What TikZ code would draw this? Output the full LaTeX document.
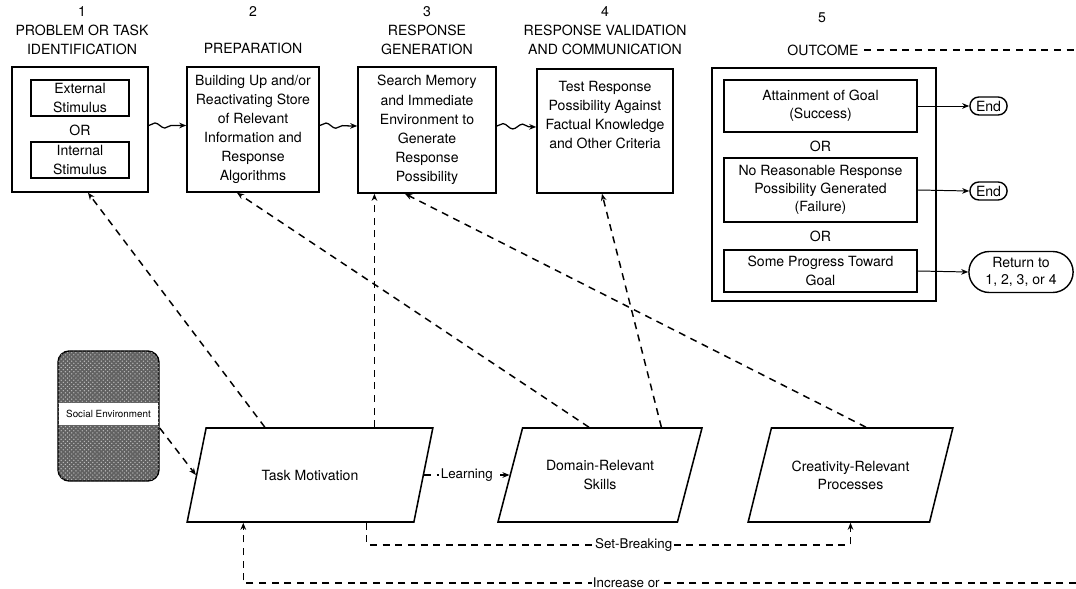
\documentclass[tikz,border=0pt]{standalone}
\usepackage{fontspec}
\setmainfont{TeX Gyre Heros}
\usetikzlibrary{calc}
\usetikzlibrary{arrows.meta}
\usetikzlibrary{shapes.geometric, shapes.misc}
\usetikzlibrary{decorations.pathmorphing}
\usetikzlibrary{patterns}
\begin{document}
\begin{tikzpicture}[x=0.025cm, y=-0.025cm]
            \tikzstyle{stage box} = [draw, line width=1.1pt, align=center, inner sep=2pt, font=\fontsize{10}{13.6}\selectfont]
            \tikzstyle{sub box} = [draw, line width=1.1pt, align=center, inner sep=2pt, font=\fontsize{10}{13}\selectfont]
            \tikzstyle{stage title} = [align=center, inner sep=1pt, font=\fontsize{10}{13.5}\selectfont]
            \tikzstyle{end oval} = [draw, line width=1pt, rounded rectangle, align=center, inner sep=1pt, font=\fontsize{10}{12.5}\selectfont]
            \tikzstyle{component} = [draw, line width=1.1pt, trapezium, trapezium left angle=64, trapezium right angle=116, trapezium stretches=true, minimum height=2.35cm, align=center, font=\fontsize{10}{13}\selectfont]
            \tikzstyle{dep line} = [line width=1.05pt, dash pattern=on 5pt off 4pt, -{Stealth[length=5pt, width=4pt]}]
            \tikzstyle{flow line} = [line width=0.7pt, -{Stealth[length=5pt, width=4pt]}]
            \tikzstyle{wave line} = [line width=0.9pt, -{Stealth[length=5pt, width=4pt]}, decorate, decoration={snake, amplitude=1.8pt, segment length=14pt, post length=4pt}]
            \tikzstyle{line label} = [fill=white, inner sep=1pt, font=\fontsize{9.5}{11}\selectfont]
            \useasboundingbox (0,0) rectangle (1076,589);
            % stages 1 to 4
            \node[stage title] (n1) at (82,31) {1\\PROBLEM OR TASK\\IDENTIFICATION};
            \node[stage title] (n2) at (253,12) {2};
            \node[stage title] (t2) at (253,48) {PREPARATION};
            \node[stage title] (n3) at (427,31) {3\\RESPONSE\\GENERATION};
            \node[stage title] (n4) at (605,31) {4\\RESPONSE VALIDATION\\AND COMMUNICATION};
            \node[stage box, minimum width=3.4cm, minimum height=3.125cm] (ident) at (80,129.5) {};
            \node[sub box, minimum width=2.45cm, minimum height=0.9cm] (ext) at (80,98) {External\\Stimulus};
            \node[stage title] (or0) at (80,130) {OR};
            \node[sub box, minimum width=2.45cm, minimum height=0.9cm] (int) at (80,160) {Internal\\Stimulus};
            \node[stage box, minimum width=3.3cm, minimum height=3.125cm] (prep) at (253,129.5) {Building Up and/or\\Reactivating Store\\of Relevant\\Information and\\Response\\Algorithms};
            \node[stage box, minimum width=3.45cm, minimum height=3.15cm] (gen) at (427,130) {Search Memory\\and Immediate\\Environment to\\Generate\\Response\\Possibility};
            \node[stage box, minimum width=3.4cm, minimum height=3.1cm] (valid) at (605,131) {Test Response\\Possibility Against\\Factual Knowledge\\and Other Criteria\\[9pt]};
            \draw[wave line] ($(ident.east)+(0,-4)$) -- ($(prep.west)+(0,-4)$);
            \draw[wave line] ($(prep.east)+(0,-4)$) -- ($(gen.west)+(0,-4)$);
            \draw[wave line] ($(gen.east)+(0,-4)$) -- ($(valid.west)+(0,-4)$);
            % stage 5
            \node[stage title] (n5) at (822,18) {5};
            \node[stage title] (t5) at (823,50) {OUTCOME};
            \coordinate (outR) at (1076,50);
            \draw[line width=1.05pt, dash pattern=on 5pt off 4pt] (t5.east) ++(4,0) -- (outR);
            \node[stage box, minimum width=5.6cm, minimum height=5.825cm] (outc) at (824,184.5) {};
            \node[sub box, minimum width=4.825cm, minimum height=1.3cm] (att) at (820.5,106) {Attainment of Goal\\(Success)};
            \node[stage title] (or1) at (820.5,146) {OR};
            \node[sub box, minimum width=4.825cm, minimum height=1.6cm] (nrr) at (820.5,190) {No Reasonable Response\\Possibility Generated\\(Failure)};
            \node[stage title] (or2) at (820.5,236) {OR};
            \node[sub box, minimum width=4.825cm, minimum height=1.05cm] (prog) at (820.5,271) {Some Progress Toward\\Goal};
            \node[end oval, minimum width=1cm, minimum height=0.45cm] (end1) at (988.5,106) {End};
            \node[end oval, minimum width=1cm, minimum height=0.45cm] (end2) at (988.5,191) {End};
            \node[end oval, minimum width=2.675cm, minimum height=1.025cm] (ret) at (1021,272) {Return to\\1, 2, 3, or 4};
            \draw[flow line] (att.east) -- (end1.west);
            \draw[flow line] (nrr.east) -- (end2.west);
            \draw[flow line] (prog.east) -- (ret.west);
            % components
            \node[draw, line width=1pt, rounded corners=8pt, fill=black!62, postaction={pattern=crosshatch dots, pattern color=black!25}, minimum width=2.525cm, minimum height=3.25cm] (soc) at (108.5,416) {};
            \node[fill=white, minimum width=2.45cm, minimum height=0.55cm, inner sep=0pt, font=\fontsize{7}{8}\selectfont] (soclab) at (108.5,414) {Social Environment};
            \node[component, minimum width=6.15cm] (tm) at (310,475) {Task Motivation};
            \node[component, minimum width=5.1cm] (drs) at (600,475) {Domain-Relevant\\Skills};
            \node[component, minimum width=5.125cm] (crp) at (850.5,475) {Creativity-Relevant\\Processes};
            \coordinate (tmA) at ($(tm.top left corner)!0.26!(tm.top right corner)$);
            \coordinate (tmB) at ($(tm.top left corner)!0.74!(tm.top right corner)$);
            \coordinate (drsA) at ($(drs.top left corner)!0.37!(drs.top right corner)$);
            \coordinate (drsB) at ($(drs.top left corner)!0.77!(drs.top right corner)$);
            \coordinate (crpA) at ($(crp.top left corner)!0.52!(crp.top right corner)$);
            \coordinate (tmC) at ($(tm.bottom left corner)!0.79!(tm.bottom right corner)$);
            \coordinate (tmD) at ($(tm.bottom left corner)!0.25!(tm.bottom right corner)$);
            \coordinate (incR) at (1076,583);
            \draw[dep line] ($(soc.east)+(0,12)$) -- (tm.left side);
            \draw[dep line] (tmA) -- ($(ident.south)+(8,0)$);
            \draw[dep line] (tmB) -- (tmB |- gen.south);
            \draw[dep line] (drsA) -- ($(prep.south)+(-16,0)$);
            \draw[dep line] (drsB) -- ($(valid.south)+(-3,0)$);
            \draw[dep line] (crpA) -- ($(gen.south)+(-22,0)$);
            \draw[dep line] (tm.right side) -- node[line label] {Learning} (drs.left side);
            \draw[dep line] (tmC) -- ++(0,22) -| node[line label, pos=0.276] {Set-Breaking} (crp.south);
            \draw[dep line] (incR) -| node[line label, pos=0.27] {Increase or} (tmD);
        \end{tikzpicture}
\end{document}
